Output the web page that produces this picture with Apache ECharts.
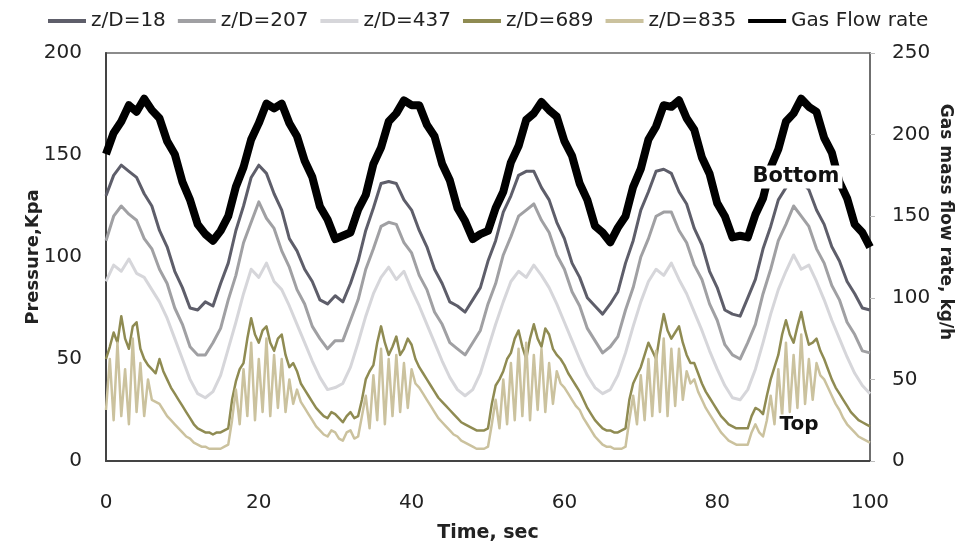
<!DOCTYPE html>
<html>
<head>
<meta charset="utf-8">
<script src="https://cdn.jsdelivr.net/npm/echarts@6/dist/echarts.min.js"></script>
<style>
html,body{margin:0;padding:0;background:#fff;}
#chart{width:964px;height:548px;}
</style>
</head>
<body>
<div id="chart"></div>
<script>
// Time, sec (1 s samples)
var times = [0,1,2,3,4,5,6,7,8,9,10,11,12,13,14,15,16,17,18,19,20,21,22,23,24,25,26,27,28,29,30,31,32,33,34,35,36,37,38,39,40,41,42,43,44,45,46,47,48,49,50,51,52,53,54,55,56,57,58,59,60,61,62,63,64,65,66,67,68,69,70,71,72,73,74,75,76,77,78,79,80,81,82,83,84,85,86,87,88,89,90,91,92,93,94,95,96,97,98,99,100];
// Time, sec (0.5 s samples, for the spiky top-section series)
var timesHalf = [0,0.5,1,1.5,2,2.5,3,3.5,4,4.5,5,5.5,6,6.5,7,7.5,8,8.5,9,9.5,10,10.5,11,11.5,12,12.5,13,13.5,14,14.5,15,15.5,16,16.5,
17,17.5,18,18.5,19,19.5,20,20.5,21,21.5,22,22.5,23,23.5,24,24.5,25,25.5,26,26.5,27,27.5,28,28.5,29,29.5,30,30.5,31,31.5,32,32.5,33,33.5,
34,34.5,35,35.5,36,36.5,37,37.5,38,38.5,39,39.5,40,40.5,41,41.5,42,42.5,43,43.5,44,44.5,45,45.5,46,46.5,47,47.5,48,48.5,49,49.5,50,50.5,
51,51.5,52,52.5,53,53.5,54,54.5,55,55.5,56,56.5,57,57.5,58,58.5,59,59.5,60,60.5,61,61.5,62,62.5,63,63.5,64,64.5,65,65.5,66,66.5,67,67.5,68,68.5,
69,69.5,70,70.5,71,71.5,72,72.5,73,73.5,74,74.5,75,75.5,76,76.5,77,77.5,78,78.5,79,79.5,80,80.5,81,81.5,82,82.5,83,83.5,84,84.5,85,85.5,86,86.5,
87,87.5,88,88.5,89,89.5,90,90.5,91,91.5,92,92.5,93,93.5,94,94.5,95,95.5,96,96.5,97,97.5,98,98.5,99,99.5,100];

// Pressure, kPa
var zD18 = [130,140,145,142,139,131,125,113,105,93,85,75,74,78,76,87,97,113,125,139,145,141,131,123,109,103,94,88,79,77,81,78,87,98,113,124,136,137,136,128,123,113,105,94,87,78,76,73,79,85,98,108,122,130,140,142,142,134,128,117,109,97,90,80,76,72,77,83,97,108,123,132,142,143,141,132,126,114,106,93,85,74,72,71,80,89,104,115,128,134,141,137,133,123,116,105,98,88,82,75,74];
var zD207 = [108,120,125,121,118,109,104,94,87,75,67,56,52,52,58,65,79,91,107,117,127,119,114,103,95,84,77,66,60,55,59,59,69,79,94,104,115,117,116,107,102,91,84,73,67,58,55,52,58,64,77,87,101,110,120,123,126,118,112,101,94,83,76,65,59,53,56,61,74,85,100,109,120,122,122,113,107,96,89,77,69,57,52,50,58,67,82,94,108,116,125,120,115,104,97,86,79,68,62,54,53];
var zD437 = [88,96,93,99,92,90,84,78,70,60,50,40,33,31,34,42,55,68,82,94,90,97,88,84,76,67,58,49,41,35,36,38,46,58,71,82,90,95,89,93,84,76,67,58,49,41,35,32,35,43,55,67,78,88,93,90,96,91,85,77,68,59,50,42,36,33,35,42,53,66,78,88,94,91,97,89,82,73,64,54,45,37,31,30,35,45,58,72,84,93,101,94,96,88,79,69,60,51,43,37,33];
var zD689 = [50,56,63,58,71,60,55,66,68,55,50,47,45,43,50,44,40,36,33,30,27,24,21,18,16,15,14,14,13,14,14,15,16,30,
39,45,48,60,70,62,58,64,66,58,54,60,62,52,46,48,44,38,35,32,29,26,24,22,21,24,23,21,19,22,24,21,22,30,
40,44,47,58,66,58,52,56,61,52,55,60,57,50,46,43,40,37,34,31,29,27,25,23,21,19,18,17,16,15,15,15,16,28,
37,40,44,50,53,60,64,56,50,60,67,60,56,65,62,55,52,50,47,43,40,37,34,30,26,23,20,18,16,15,15,14,14,15,16,30,
38,42,46,52,58,54,50,62,72,64,60,63,66,58,52,48,48,43,38,34,31,28,25,22,20,18,17,16,16,16,16,22,26,25,23,32,
40,46,52,62,69,62,58,66,73,64,57,58,60,54,50,45,40,36,33,30,27,24,22,20,19,18,17];
var zD835 = [25,50,20,58,22,45,18,60,24,48,22,40,30,29,28,25,22,20,18,16,14,12,11,9,8,7,7,6,6,6,6,7,8,20,
35,18,45,22,58,20,50,24,60,22,52,26,50,24,40,28,35,29,26,23,20,17,15,13,12,15,14,11,10,14,15,11,12,22,
32,16,42,20,55,18,50,22,52,24,48,26,45,38,36,33,30,27,24,21,19,17,15,13,12,10,9,8,7,6,6,6,7,18,
30,16,40,18,48,20,55,22,58,20,52,25,55,24,48,28,44,38,36,33,30,27,25,21,18,15,12,10,8,7,7,6,6,6,7,20,
32,18,42,20,50,22,54,24,60,22,55,27,55,30,44,38,40,34,30,26,23,20,17,14,12,10,9,8,8,8,8,14,18,14,12,20,
32,18,45,22,58,24,52,26,62,28,50,30,48,42,40,36,32,28,25,21,18,16,14,12,11,10,9];
// Gas mass flow rate, kg/h (right axis)
var gasFlow = [188,201,208,218,214,222,215,210,196,188,171,160,145,139,135,141,150,168,180,197,207,219,216,219,207,199,184,174,156,148,136,138,140,154,163,182,192,208,213,221,218,218,206,199,182,172,155,147,136,139,141,155,165,183,193,209,213,220,215,211,196,187,170,160,144,140,134,143,150,168,179,197,205,218,217,221,210,203,186,176,158,150,137,138,137,151,161,180,191,208,213,222,217,214,198,189,171,161,145,140,131];

var seriesNames = ['z/D=18','z/D=207','z/D=437','z/D=689','z/D=835','Gas Flow rate'];
var seriesColors = ['#5e5e6a','#a0a0a3','#d6d6da','#8f8b52','#cbc29e','#000000'];
var leftTicks = [0,50,100,150,200];
var rightTicks = [0,50,100,150,200,250];
var xTicks = [0,20,40,60,80,100];

function pairs(tArr, arr){ return tArr.map(function(t,i){ return [t, arr[i]]; }); }

var chart = echarts.init(document.getElementById('chart'), null, {renderer:'canvas'});
var FONT = 'DejaVu Sans';
var seriesData = [pairs(times,zD18), pairs(times,zD207), pairs(times,zD437), pairs(timesHalf,zD689), pairs(timesHalf,zD835), pairs(times,gasFlow)];
var widths = [3,3,3,2.5,2.5,8];

var series = seriesData.map(function(d, i){
  return {
    name: seriesNames[i],
    type: 'line',
    yAxisIndex: i === 5 ? 1 : 0,
    data: d,
    showSymbol: false,
    symbol: 'none',
    animation: false,
    lineStyle: { color: seriesColors[i], width: widths[i], join: 'round' },
    itemStyle: { color: seriesColors[i] },
    z: 2 + i
  };
});

chart.setOption({
  backgroundColor: '#ffffff',
  animation: false,
  textStyle: { fontFamily: FONT },
  legend: {
    data: seriesNames,
    left: 43,
    top: 6,
    icon: 'rect',
    itemWidth: 38,
    itemHeight: 4,
    itemGap: 12,
    textStyle: { fontFamily: FONT, fontSize: 20, color: '#222' }
  },
  grid: {
    left: 106, right: 94, top: 53, bottom: 86,
    show: true, borderColor: '#666', borderWidth: 1.5, backgroundColor: 'transparent'
  },
  xAxis: {
    type: 'value', min: 0, max: 100, interval: 20,
    name: 'Time, sec', nameLocation: 'middle', nameGap: 63, nameMoveOverlap: false,
    nameTextStyle: { fontFamily: FONT, fontSize: 19, fontWeight: 'bold', color: '#222' },
    axisLine: { show: true, lineStyle: { color: '#444', width: 2 } },
    axisTick: { show: false },
    splitLine: { show: false },
    axisLabel: { margin: 32, fontFamily: FONT, fontSize: 20, color: '#222',
      formatter: function(v){ return xTicks.indexOf(v) >= 0 ? String(v) : ''; } }
  },
  yAxis: [{
    type: 'value', min: 0, max: 200, interval: 50, position: 'left',
    name: 'Pressure,Kpa', nameLocation: 'middle', nameGap: 64, nameRotate: 90, nameMoveOverlap: false,
    nameTextStyle: { fontFamily: FONT, fontSize: 18, fontWeight: 'bold', color: '#222' },
    axisLine: { show: true, lineStyle: { color: '#444', width: 2 } },
    axisTick: { show: false },
    splitLine: { show: false },
    axisLabel: { margin: 24, fontFamily: FONT, fontSize: 20, color: '#222',
      formatter: function(v){ return leftTicks.indexOf(v) >= 0 ? String(v) : ''; } }
  }, {
    type: 'value', min: 0, max: 250, interval: 50, position: 'right',
    axisLine: { show: true, lineStyle: { color: '#666', width: 1.5 } },
    axisTick: { show: true, length: 5, lineStyle: { color: '#bbb' } },
    splitLine: { show: false },
    axisLabel: { margin: 22, fontFamily: FONT, fontSize: 20, color: '#222',
      formatter: function(v){ return rightTicks.indexOf(v) >= 0 ? String(v) : ''; } }
  }],
  graphic: [
    { type: 'text', x: 945, y: 222, rotation: -Math.PI/2, z: 100,
      style: { text: 'Gas mass flow rate, kg/h', fontFamily: FONT, fontSize: 17, fontWeight: 'bold',
        fill: '#222', align: 'center', verticalAlign: 'middle' } },
    { type: 'text', x: 796, y: 177, z: 100,
      style: { text: 'Bottom', fontFamily: FONT, fontSize: 21, fontWeight: 'bold', fill: '#111',
        align: 'center', verticalAlign: 'middle', backgroundColor: '#fff', padding: [2, 3, 0, 3] } },
    { type: 'text', x: 799, y: 425, z: 100,
      style: { text: 'Top', fontFamily: FONT, fontSize: 20, fontWeight: 'bold', fill: '#111',
        align: 'center', verticalAlign: 'middle', backgroundColor: '#fff', padding: [1, 2, 0, 2] } }
  ],
  series: series
});
</script>
</body>
</html>
